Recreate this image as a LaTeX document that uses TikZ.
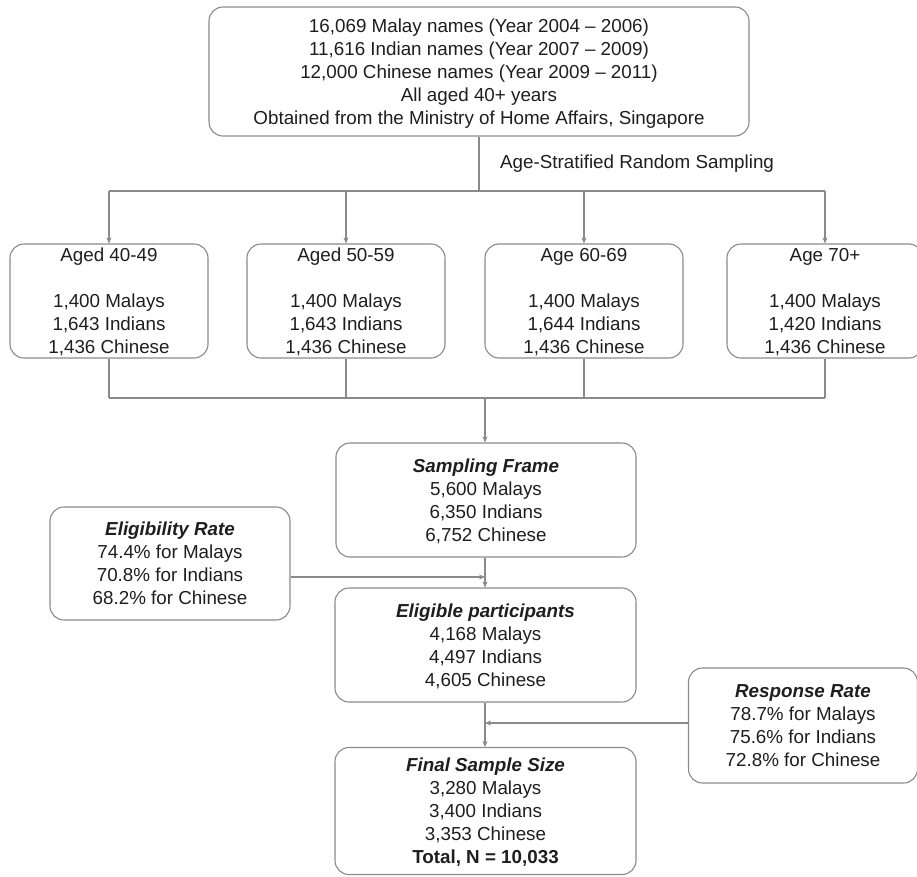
\documentclass[tikz,border=0pt]{standalone}
\usepackage{fontspec}
\setmainfont{Liberation Sans}
\usetikzlibrary{arrows.meta}
\definecolor{edge}{HTML}{8A8A8A}
\definecolor{ink}{HTML}{1E1E1E}
\tikzset{
  box/.style={draw=edge, line width=1.1pt, rounded corners=14pt, align=center,
    text=ink, inner sep=0pt, text depth=-8pt, font=\fontsize{18.8}{23}\selectfont},
  conn/.style={draw=edge, line width=1.1pt},
  arr/.style={conn, -{Stealth[length=6pt,width=5pt,fill=ink]}},
  lbl/.style={text=ink, inner sep=0pt, font=\fontsize{18.8}{23}\selectfont},
}
\begin{document}
\begin{tikzpicture}[x=1pt,y=-1pt]
\useasboundingbox (0,0) rectangle (917,876);
\begin{scope}
\clip (0,0) rectangle (917,876);
% top box
\node[box, minimum width=540pt, minimum height=129pt] (top) at (479,71.5)
 {16,069 Malay names (Year 2004 -- 2006)\\11,616 Indian names (Year 2007 -- 2009)\\12,000 Chinese names (Year 2009 -- 2011)\\All aged 40+ years\\Obtained from the Ministry of Home Affairs, Singapore};
\node[lbl, anchor=west] (strat) at (500,164) {Age-Stratified Random Sampling};
% age boxes
\node[box, minimum width=198pt, minimum height=114pt] (a1) at (109,301)
 {Aged 40-49\\[23pt]1,400 Malays\\1,643 Indians\\1,436 Chinese};
\node[box, minimum width=198pt, minimum height=114pt] (a2) at (346,301)
 {Aged 50-59\\[23pt]1,400 Malays\\1,643 Indians\\1,436 Chinese};
\node[box, minimum width=198pt, minimum height=114pt] (a3) at (584,301)
 {Age 60-69\\[23pt]1,400 Malays\\1,644 Indians\\1,436 Chinese};
\node[box, minimum width=196pt, minimum height=114pt] (a4) at (825,301)
 {Age 70+\\[23pt]1,400 Malays\\1,420 Indians\\1,436 Chinese};
% sampling frame
\node[box, minimum width=300pt, minimum height=114pt] (sf) at (486,500)
 {\textbf{\textit{Sampling Frame}}\\5,600 Malays\\6,350 Indians\\6,752 Chinese};
\node[box, minimum width=240pt, minimum height=113pt] (er) at (170,563.5)
 {\textbf{\textit{Eligibility Rate}}\\74.4\% for Malays\\70.8\% for Indians\\68.2\% for Chinese};
\node[box, minimum width=301pt, minimum height=114pt] (ep) at (485.5,645)
 {\textbf{\textit{Eligible participants}}\\4,168 Malays\\4,497 Indians\\4,605 Chinese};
\node[box, minimum width=229pt, minimum height=115pt] (rr) at (803,725.5)
 {\textbf{\textit{Response Rate}}\\78.7\% for Malays\\75.6\% for Indians\\72.8\% for Chinese};
\node[box, minimum width=301pt, minimum height=127pt] (fs) at (485.5,811)
 {\textbf{\textit{Final Sample Size}}\\3,280 Malays\\3,400 Indians\\3,353 Chinese\\\textbf{Total, N = 10,033}};
% connectors
\coordinate (hub) at (479,191);
\coordinate (col) at (485,398);
\coordinate (j1) at (485,577);
\coordinate (j2) at (485,723);
\draw[conn] (top.south) -- (hub);
\draw[conn] (a1.north |- hub) -- (a4.north |- hub);
\foreach \n in {a1,a2,a3,a4} {
  \draw[arr] (\n.north |- hub) -- (\n.north);
  \draw[conn] (\n.south) -- (\n.south |- col);
}
\draw[conn] (a1.south |- col) -- (a4.south |- col);
\draw[arr] (col) -- (col |- sf.north);
\draw[conn] (col |- sf.south) -- (j1);
\draw[arr] (j1) -- (col |- ep.north);
\draw[arr] (er.east |- j1) -- (j1);
\draw[conn] (col |- ep.south) -- (j2);
\draw[arr] (j2) -- (col |- fs.north);
\draw[arr] (rr.west |- j2) -- (j2);
\end{scope}
\end{tikzpicture}
\end{document}
